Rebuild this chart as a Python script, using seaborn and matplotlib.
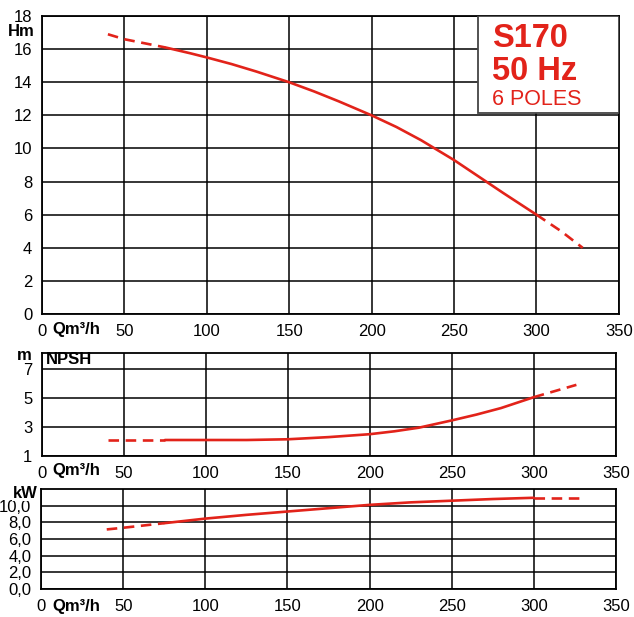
import numpy as np
import pandas as pd
import seaborn as sns
import matplotlib.pyplot as plt
from matplotlib.patches import Rectangle

RED = "#e2231a"

# pump curves (flow in m3/h)
head_flow = [40, 50, 60, 75, 90, 100, 115, 130, 150, 165, 180, 200, 215, 230,
             250, 265, 280, 300, 315, 328]
head_m = [16.9, 16.6, 16.4, 16.1, 15.75, 15.5, 15.1, 14.65, 14.0, 13.45, 12.85,
          12.0, 11.3, 10.5, 9.3, 8.3, 7.3, 6.0, 5.0, 4.0]

npsh_flow = [40, 75, 100, 125, 150, 175, 200, 215, 230, 250, 265, 280, 300, 326]
npsh_m = [2.1, 2.1, 2.1, 2.1, 2.15, 2.3, 2.5, 2.7, 2.95, 3.45, 3.85, 4.3, 5.05, 5.9]

power_flow = [40, 50, 75, 100, 125, 150, 175, 200, 225, 250, 275, 300, 328]
power_kw = [7.15, 7.35, 7.9, 8.45, 8.9, 9.3, 9.7, 10.1, 10.4, 10.6, 10.8, 10.95, 10.95]

solid_range = (75, 300)

x_ticks = [0, 50, 100, 150, 200, 250, 300, 350]
head_ticks = [0, 2, 4, 6, 8, 10, 12, 14, 16, 18]
npsh_ticks = [1, 3, 5, 7]
power_ticks = [0, 2, 4, 6, 8, 10]
power_labels = ["0,0", "2,0", "4,0", "6,0", "8,0", "10,0"]

sns.set_theme(style="white")
plt.rcParams["font.family"] = ["Liberation Sans", "DejaVu Sans"]

fig = plt.figure(figsize=(6.34, 6.17), dpi=100)
ax_h = fig.add_axes([0.0662, 0.491, 0.910, 0.483])
ax_n = fig.add_axes([0.0662, 0.261, 0.905, 0.167])
ax_p = fig.add_axes([0.0647, 0.0454, 0.907, 0.162])


def draw_curve(ax, flow, values):
    df = pd.DataFrame({"q": flow, "v": values})
    lo, hi = solid_range
    solid = df[(df.q >= lo) & (df.q <= hi)]
    left = df[df.q <= lo]
    right = df[df.q >= hi]
    kw = dict(x="q", y="v", color=RED, linewidth=1.9, ax=ax, sort=True)
    sns.lineplot(data=solid, **kw)
    for part in (left, right):
        line = sns.lineplot(data=part, **kw).lines[-1]
        line.set_dashes((4, 2.5))


def style_axis(ax, ymin, ymax, yticks, ylabels=None):
    ax.set_xlim(0, 350)
    ax.set_ylim(ymin, ymax)
    ax.set_xticks(x_ticks)
    ax.set_yticks(yticks)
    if ylabels is not None:
        ax.set_yticklabels(ylabels)
    ax.grid(True, color="black", linewidth=1.1)
    ax.tick_params(length=0, labelsize=12, colors="black", pad=7)
    for s in ax.spines.values():
        s.set_color("black")
        s.set_linewidth(1.3)
    ax.set_xlabel("")
    ax.set_ylabel("")


draw_curve(ax_h, head_flow, head_m)
draw_curve(ax_n, npsh_flow, npsh_m)
draw_curve(ax_p, power_flow, power_kw)

style_axis(ax_h, 0, 18, head_ticks)
style_axis(ax_n, 1, 8.1, npsh_ticks)
style_axis(ax_p, 0, 12, power_ticks, power_labels)

# model label box
ax_h.add_patch(Rectangle((0.755, 0.675), 0.245, 0.325, transform=ax_h.transAxes,
                         facecolor="white", edgecolor="#444444", linewidth=1.3,
                         zorder=5))
ax_h.text(0.78, 0.925, "S170", transform=ax_h.transAxes, color=RED,
          fontsize=23.5, fontweight="bold", va="center", zorder=6)
ax_h.text(0.78, 0.815, "50 Hz", transform=ax_h.transAxes, color=RED,
          fontsize=23.5, fontweight="bold", va="center", zorder=6)
ax_h.text(0.78, 0.72, "6 POLES", transform=ax_h.transAxes, color=RED,
          fontsize=15.5, va="center", zorder=6)

# axis captions
bold = dict(fontsize=12, fontweight="bold", color="black")
fig.text(8 / 634, 1 - 31 / 617, "Hm", va="center", **bold)
for y in (330, 470, 606):
    fig.text(52 / 634, 1 - y / 617, "Qm³/h", va="center", **bold)
fig.text(17 / 634, 1 - 356 / 617, "m", va="center", **bold)
fig.text(46 / 634, 1 - 360 / 617, "NPSH", va="center", **bold)
fig.text(13 / 634, 1 - 493 / 617, "kW", va="center", zorder=10,
         bbox=dict(facecolor="white", edgecolor="none", pad=0.5), **bold)

fig.savefig("out.png", dpi=100)
